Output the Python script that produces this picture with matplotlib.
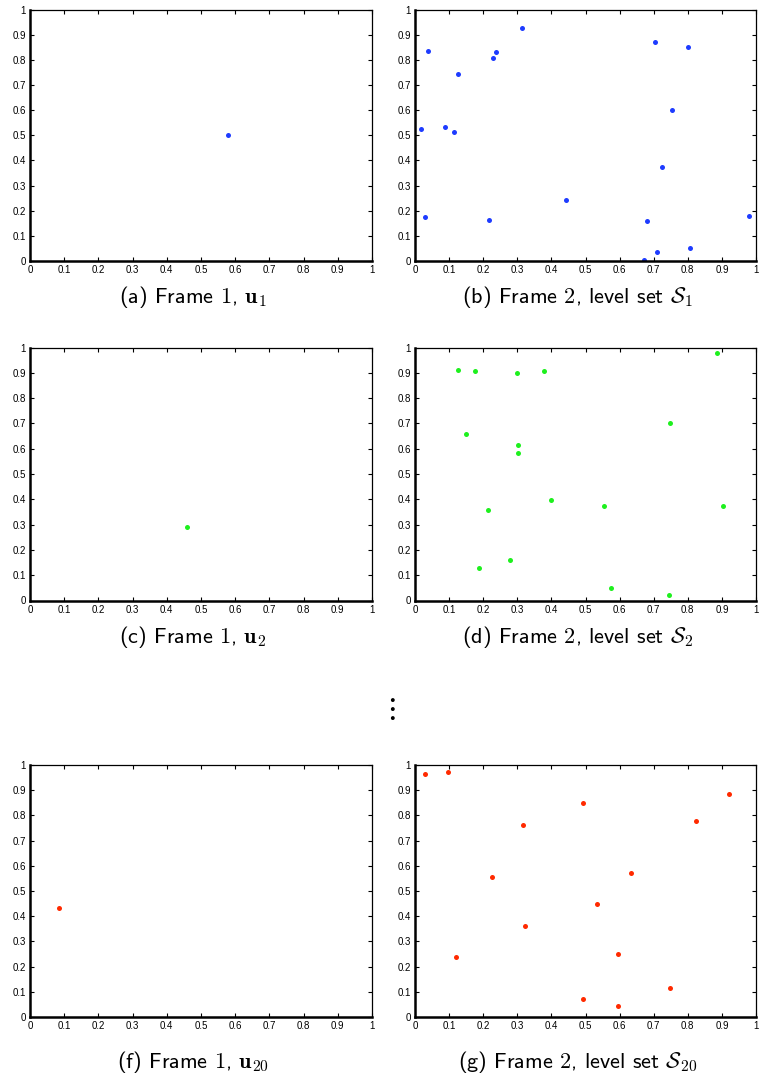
import numpy as np
import matplotlib
matplotlib.use("Agg")
import matplotlib.pyplot as plt

plt.rcParams['mathtext.fontset'] = 'cm'

# frame 1 points (single query point per panel)
u1 = [(0.578, 0.502)]
u2 = [(0.459, 0.290)]
u20 = [(0.084, 0.433)]

# frame 2 level sets
s1_x = [0.018, 0.039, 0.029, 0.089, 0.113, 0.127, 0.217, 0.230, 0.238, 0.315,
        0.443, 0.704, 0.801, 0.753, 0.724, 0.681, 0.673, 0.711, 0.807, 0.979]
s1_y = [0.523, 0.834, 0.173, 0.534, 0.511, 0.745, 0.162, 0.808, 0.831, 0.925,
        0.243, 0.871, 0.849, 0.601, 0.374, 0.160, 0.005, 0.036, 0.052, 0.178]

s2_x = [0.127, 0.176, 0.298, 0.378, 0.886, 0.150, 0.302, 0.301, 0.747,
        0.213, 0.400, 0.554, 0.902, 0.188, 0.278, 0.575, 0.744]
s2_y = [0.910, 0.908, 0.901, 0.908, 0.979, 0.659, 0.613, 0.582, 0.702,
        0.358, 0.398, 0.374, 0.374, 0.128, 0.159, 0.050, 0.022]

s20_x = [0.030, 0.096, 0.493, 0.921, 0.317, 0.823, 0.226, 0.634, 0.535,
         0.323, 0.120, 0.594, 0.747, 0.492, 0.594]
s20_y = [0.964, 0.971, 0.849, 0.886, 0.760, 0.779, 0.555, 0.572, 0.449,
         0.362, 0.237, 0.250, 0.117, 0.072, 0.045]

ticks = np.round(np.arange(0, 1.01, 0.1), 1)
tick_labels = ['0'] + ['%.1f' % t for t in ticks[1:-1]] + ['1']

blue = '#1e3cff'
green = '#1ef01e'
red = '#ff2a00'

W, H = 760, 1075
fig = plt.figure(figsize=(W / 100, H / 100), dpi=100)

cols = [(30, 372), (415, 756)]
rows = [(9.5, 261), (347.5, 600.5), (765, 1017)]

panels = [
    (0, 0, [p[0] for p in u1], [p[1] for p in u1], blue, r'(a) Frame $1$, $\mathbf{u}_1$'),
    (0, 1, s1_x, s1_y, blue, r'(b) Frame $2$, level set $\mathcal{S}_1$'),
    (1, 0, [p[0] for p in u2], [p[1] for p in u2], green, r'(c) Frame $1$, $\mathbf{u}_2$'),
    (1, 1, s2_x, s2_y, green, r'(d) Frame $2$, level set $\mathcal{S}_2$'),
    (2, 0, [p[0] for p in u20], [p[1] for p in u20], red, r'(f) Frame $1$, $\mathbf{u}_{20}$'),
    (2, 1, s20_x, s20_y, red, r'(g) Frame $2$, level set $\mathcal{S}_{20}$'),
]

for r, c, xs, ys, col, cap in panels:
    x0, x1 = cols[c]
    y0, y1 = rows[r]
    ax = fig.add_axes([x0 / W, 1 - y1 / H, (x1 - x0) / W, (y1 - y0) / H])
    ax.plot(xs, ys, 'o', color=col, markersize=3.6, markeredgewidth=0)
    ax.set_xlim(0, 1)
    ax.set_ylim(0, 1)
    ax.set_xticks(ticks)
    ax.set_yticks(ticks)
    ax.set_xticklabels(tick_labels)
    ax.set_yticklabels(tick_labels)
    ax.tick_params(direction='in', length=3, width=0.8, top=True, right=True,
                   labelsize=7, pad=3)
    for lab in ax.get_xticklabels() + ax.get_yticklabels():
        lab.set_fontfamily('Liberation Sans')
    ax.spines['bottom'].set_linewidth(1.8)
    ax.spines['left'].set_linewidth(1.8)
    ax.spines['top'].set_linewidth(0.9)
    ax.spines['right'].set_linewidth(0.9)
    cy = rows[r][1] + (36 if r < 2 else 45)
    cx = (x0 + x1) / 2 - 8
    fig.text(cx / W, 1 - cy / H, cap, ha='center', va='center',
             fontsize=16, family='cmss10')

# vertical ellipsis between rows
fig.text(390 / W, 1 - 708 / H, r'$\vdots$', ha='center', va='center', fontsize=22)

fig.savefig('out.png', dpi=100)
